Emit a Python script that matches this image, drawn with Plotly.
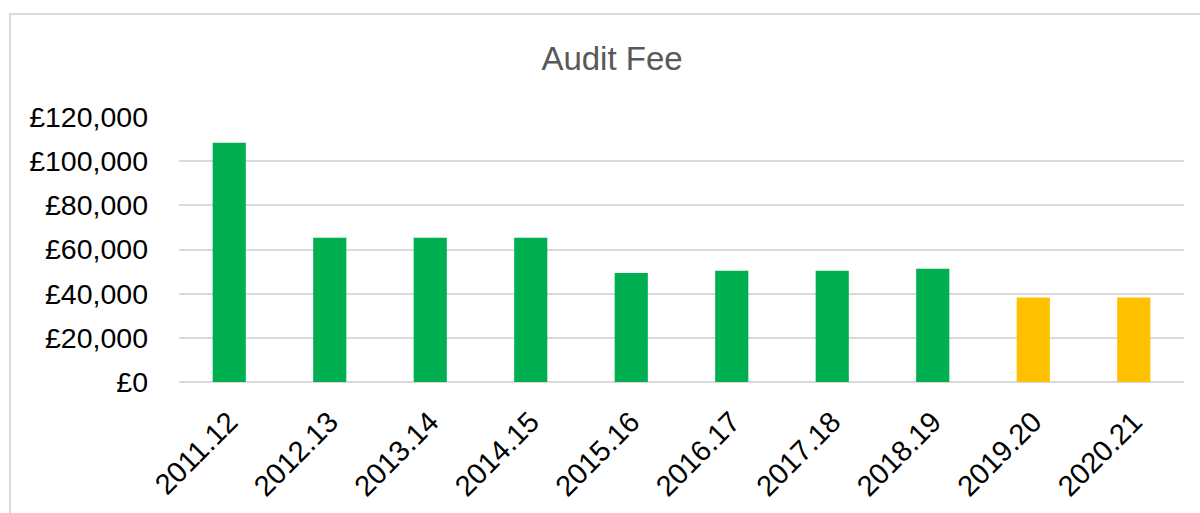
import plotly.graph_objects as go

years = ["2011.12", "2012.13", "2013.14", "2014.15", "2015.16",
         "2016.17", "2017.18", "2018.19", "2019.20", "2020.21"]
fees = [108300, 65300, 65300, 65300, 49400, 50400, 50400, 51300, 38300, 38300]
bar_colors = ["#00B050"] * 8 + ["#FFC000"] * 2
tick_vals = [0, 20000, 40000, 60000, 80000, 100000, 120000]
tick_text = ["£0", "£20,000", "£40,000", "£60,000", "£80,000", "£100,000", "£120,000"]

W, H = 1200, 513
L, R, T, B = 179, 16, 117, 131
pw, ph = W - L - R, H - T - B

fig = go.Figure(go.Bar(x=years, y=fees, marker=dict(color=bar_colors, line=dict(width=0)),
                       width=0.33))

fig.update_layout(
    width=W, height=H,
    margin=dict(l=L, r=R, t=T, b=B, autoexpand=False),
    paper_bgcolor="white", plot_bgcolor="white",
    font=dict(family="Liberation Sans, Arial, sans-serif", color="black"),
    title=dict(text="Audit Fee", x=(612 - L) / pw, xref="paper", xanchor="center",
               y=1 - 58 / H, yanchor="middle",
               font=dict(size=33, color="#595959")),
    showlegend=False,
    bargap=0.67,
)
fig.update_xaxes(tickangle=-45, tickfont=dict(size=29, color="black"), showgrid=False,
                 showline=False, ticks="", ticklen=0, ticklabelstandoff=16)
fig.update_yaxes(range=[0, 120000], tickvals=tick_vals, ticktext=tick_text,
                 tickfont=dict(size=28.5, color="black"), showgrid=True, gridcolor="#D9D9D9",
                 gridwidth=2, zeroline=True, zerolinecolor="#D9D9D9", zerolinewidth=2,
                 showline=False, ticks="", ticklabelstandoff=30)

# outer chart border
fig.add_shape(type="rect", xref="paper", yref="paper",
              x0=(10 - L) / pw, x1=(1230 - L) / pw,
              y0=(H - T - 560) / ph, y1=(H - 14 - B) / ph,
              line=dict(color="#D9D9D9", width=2), fillcolor="rgba(0,0,0,0)", layer="below")

fig.write_html("out.html")
